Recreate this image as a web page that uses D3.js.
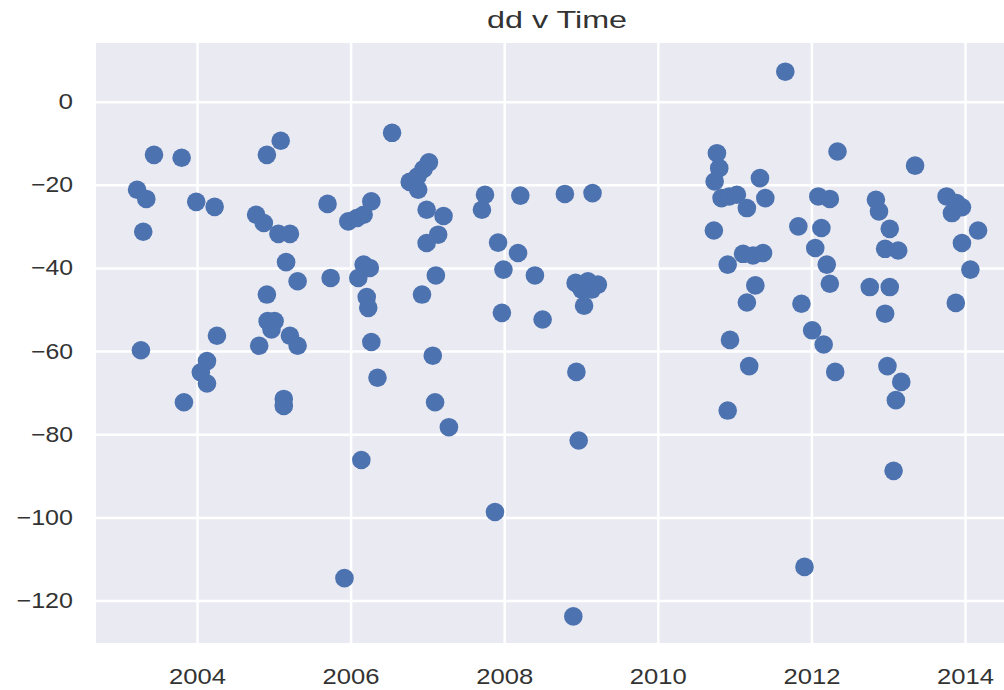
<!DOCTYPE html>
<html>
<head>
<meta charset="utf-8">
<script src="https://cdn.jsdelivr.net/npm/d3@7"></script>
<style>
  body { margin: 0; background: #fff; }
  svg { display: block; }
</style>
</head>
<body>
<div id="chart"></div>
<script>
// decimal year of each observation
const years = [
    2003.22, 2003.34, 2003.30, 2003.44, 2003.80, 2003.27, 2003.83, 2003.99, 2004.23, 2004.13,
    2004.05, 2004.13, 2004.26,
    2004.91, 2005.09, 2004.77, 2004.87, 2005.06, 2005.21, 2005.16, 2005.31, 2004.91, 2004.92,
    2005.01, 2004.97, 2004.81, 2005.21, 2005.31, 2005.13, 2005.13, 2005.70, 2005.74, 2005.92,
    2005.97, 2006.08, 2006.17, 2006.27, 2006.10, 2006.17, 2006.25, 2006.21, 2006.23, 2006.27,
    2006.35, 2006.14, 2006.54, 2007.02, 2006.95, 2006.87, 2006.77, 2006.88, 2006.99, 2007.21,
    2007.14, 2006.99, 2007.11, 2006.93, 2007.07, 2007.10, 2007.28, 2007.75, 2007.71, 2008.21,
    2007.92, 2008.18, 2007.99, 2008.40, 2007.97, 2008.50, 2007.88,
    2008.79, 2009.15, 2008.93, 2009.09, 2009.22, 2009.01, 2009.14, 2009.04, 2008.94, 2008.97,
    2008.90,
    2010.77, 2010.80, 2010.74, 2010.83, 2010.93, 2011.03, 2011.16, 2011.33, 2011.40, 2010.73,
    2011.11, 2011.24, 2011.37, 2010.91, 2011.27, 2011.16, 2010.94, 2011.19, 2010.91, 2011.66,
    2011.83, 2011.91, 2011.87,
    2012.34, 2012.09, 2012.24, 2012.13, 2012.05, 2012.20, 2012.24, 2012.01, 2012.16, 2012.31,
    2013.35, 2012.84, 2012.88, 2013.02, 2012.96, 2013.13, 2012.76, 2013.02, 2012.96, 2012.99,
    2013.17, 2013.10, 2013.07, 2013.76, 2013.89, 2013.83, 2013.96, 2014.17, 2013.96, 2014.07,
    2013.88
];

// dd value for each observation (same order as years)
const dd = [
    -21.2, -23.4, -31.3, -12.8, -13.5, -59.8, -72.3, -24.1, -25.3, -62.4,
    -65.1, -67.8, -56.3,
    -12.8, -9.4, -27.2, -29.2, -31.8, -31.8, -38.6, -43.2, -46.4, -52.8,
    -52.8, -54.8, -58.7, -56.3, -58.7, -71.5, -73.2, -24.6, -42.4, -114.6,
    -28.8, -28.0, -27.2, -24.0, -42.4, -39.2, -40.0, -47.0, -49.6, -57.8,
    -66.4, -86.2, -7.5, -14.6, -16.2, -18.0, -19.3, -21.2, -26.0, -27.5,
    -32.0, -34.0, -41.8, -46.4, -61.1, -72.3, -78.3, -22.4, -26.0, -22.6,
    -33.9, -36.4, -40.4, -41.8, -50.8, -52.4, -98.7,
    -22.2, -22.0, -43.6, -43.2, -44.0, -45.2, -45.2, -49.1, -65.0, -81.5,
    -123.8,
    -12.4, -16.0, -19.2, -23.2, -22.8, -22.4, -25.6, -18.4, -23.2, -31.0,
    -36.6, -37.0, -36.4, -39.2, -44.2, -48.3, -57.3, -63.6, -74.3, 7.2,
    -30.0, -111.9, -48.6,
    -12.0, -22.8, -23.4, -30.4, -35.2, -39.2, -43.8, -55.0, -58.4, -65.0,
    -15.4, -23.6, -26.4, -30.6, -35.4, -35.8, -44.6, -44.6, -51.0, -63.6,
    -67.4, -71.8, -88.8, -22.8, -24.4, -26.8, -25.4, -31.0, -34.0, -40.4,
    -48.4
];

const xTicks = [2004, 2006, 2008, 2010, 2012, 2014];
const yTicks = [-120, -100, -80, -60, -40, -20, 0];
const title = "dd v Time";

const width = 1004, height = 690;
const plot = { left: 96, right: 1018, top: 43, bottom: 643 };

const svg = d3.select("#chart")
    .append("svg")
    .attr("width", width)
    .attr("height", height)
    .style("font-family", "'Liberation Sans', Arial, sans-serif");

const xScale = d3.scaleLinear()
    .domain([2002.685, 2014.69])
    .range([plot.left, plot.right]);

const yScale = d3.scaleLinear()
    .domain([-130.2, 14.1])
    .range([plot.bottom, plot.top]);

// axes background
svg.append("rect")
    .attr("x", plot.left)
    .attr("y", plot.top)
    .attr("width", plot.right - plot.left)
    .attr("height", plot.bottom - plot.top)
    .attr("fill", "#eaeaf2");

// grid lines
svg.append("g")
    .attr("transform", `translate(0,${plot.bottom})`)
    .call(d3.axisBottom(xScale).tickValues(xTicks).tickSize(-(plot.bottom - plot.top)).tickFormat(""))
    .call(g => g.select(".domain").remove())
    .selectAll("line").attr("stroke", "#fff").attr("stroke-width", 2.5);

svg.append("g")
    .attr("transform", `translate(${plot.left},0)`)
    .call(d3.axisLeft(yScale).tickValues(yTicks).tickSize(-(plot.right - plot.left)).tickFormat(""))
    .call(g => g.select(".domain").remove())
    .selectAll("line").attr("stroke", "#fff").attr("stroke-width", 2.5);

// tick labels
const xAxis = svg.append("g")
    .attr("transform", `translate(0,${plot.bottom})`)
    .call(d3.axisBottom(xScale).tickValues(xTicks).tickSize(0).tickPadding(25).tickFormat(d3.format("d")));
xAxis.select(".domain").remove();
xAxis.selectAll("text")
    .attr("fill", "#333")
    .style("font-size", "22px")
    .attr("textLength", 57)
    .attr("lengthAdjust", "spacingAndGlyphs");

const yAxis = svg.append("g")
    .attr("transform", `translate(${plot.left},0)`)
    .call(d3.axisLeft(yScale).tickValues(yTicks).tickSize(0).tickPadding(23));
yAxis.select(".domain").remove();
yAxis.selectAll("text")
    .attr("fill", "#333")
    .style("font-size", "22px")
    .attr("textLength", d => String(Math.abs(d)).length * 14.5 + (d < 0 ? 13 : 0))
    .attr("lengthAdjust", "spacingAndGlyphs");

// points
svg.append("g")
    .selectAll("circle")
    .data(years.map((y, i) => ({ year: y, value: dd[i] })))
    .enter()
    .append("circle")
    .attr("cx", d => xScale(d.year))
    .attr("cy", d => yScale(d.value))
    .attr("r", 9.3)
    .attr("fill", "#4c72b0");

// title
svg.append("text")
    .attr("x", (plot.left + plot.right) / 2)
    .attr("y", 28)
    .attr("text-anchor", "middle")
    .attr("fill", "#333")
    .style("font-size", "24px")
    .attr("textLength", 140)
    .attr("lengthAdjust", "spacingAndGlyphs")
    .text(title);
</script>
</body>
</html>
